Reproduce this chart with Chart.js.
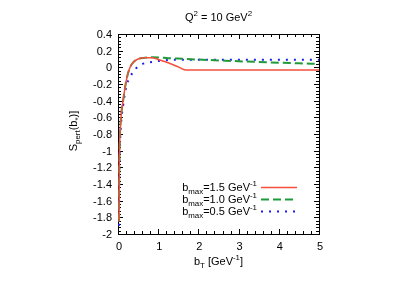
<!DOCTYPE html>
<html>
<head>
<meta charset="utf-8">
<script src="https://cdn.jsdelivr.net/npm/chart.js@4/dist/chart.umd.min.js"></script>
<style>
  html, body { margin: 0; padding: 0; background: #fff; }
  #wrap { width: 403px; height: 282px; }
</style>
</head>
<body>
<div id="wrap"><canvas id="myChart" width="403" height="282"></canvas></div>
<script>
// b_T values in GeV^-1
var bT = [0.025, 0.028, 0.032, 0.04, 0.07, 0.13, 0.21, 0.29, 0.38, 0.5, 0.67, 0.85, 1.0, 1.25, 1.5, 1.68, 2.0, 2.5, 3.0, 3.5, 4.0, 4.5, 5.0];

// S_pert for each b_max
var sBmax15 = [-1.85, -1.5, -1.2, -0.95, -0.63, -0.39, -0.15, -0.01, 0.06, 0.10, 0.115, 0.115, 0.095, 0.055, 0.005, -0.032, -0.032, -0.032, -0.032, -0.032, -0.032, -0.032, -0.032];
var sBmax10 = [-1.85, -1.5, -1.2, -0.95, -0.63, -0.39, -0.15, -0.01, 0.06, 0.10, 0.115, 0.12, 0.118, 0.11, 0.105, 0.10, 0.093, 0.083, 0.073, 0.064, 0.056, 0.048, 0.04];
var sBmax05 = [-1.9, -1.6, -1.3, -1.05, -0.72, -0.45, -0.22, -0.13, -0.05, 0.01, 0.05, 0.065, 0.075, 0.088, 0.09, 0.09, 0.09, 0.09, 0.09, 0.09, 0.09, 0.09, 0.09];

var legendLabels = [
    [{t: 'b'}, {t: 'max', sub: true}, {t: '=1.5 GeV'}, {t: '-1', sup: true}],
    [{t: 'b'}, {t: 'max', sub: true}, {t: '=1.0 GeV'}, {t: '-1', sup: true}],
    [{t: 'b'}, {t: 'max', sub: true}, {t: '=0.5 GeV'}, {t: '-1', sup: true}]
];

var xTicks = [0, 1, 2, 3, 4, 5];
var yTicks = [0.4, 0.2, 0, -0.2, -0.4, -0.6, -0.8, -1, -1.2, -1.4, -1.6, -1.8, -2];
var yMin = -2, yMax = 0.4;

var FONT = '"Liberation Sans", Arial, sans-serif';

function toPoints(xs, ys) {
    var pts = [];
    for (var i = 0; i < xs.length; i++) {
        pts.push({x: xs[i], y: ys[i]});
    }
    return pts;
}

/**
 * Width of a string made of pieces with sub/superscripts
 */
function richWidth(ctx, parts, size) {
    var w = 0;
    for (var i = 0; i < parts.length; i++) {
        var s = (parts[i].sub || parts[i].sup) ? size * 0.72 : size;
        ctx.font = s + 'px ' + FONT;
        w += ctx.measureText(parts[i].t).width;
    }
    return w;
}

function drawRich(ctx, parts, x, y, size) {
    ctx.textBaseline = 'alphabetic';
    ctx.textAlign = 'left';
    for (var i = 0; i < parts.length; i++) {
        var p = parts[i];
        var s = size, dy = 0;
        if (p.sub) { s = size * 0.72; dy = size * 0.3; }
        if (p.sup) { s = size * 0.72; dy = -size * 0.42; }
        ctx.font = s + 'px ' + FONT;
        ctx.fillText(p.t, x, y + dy);
        x += ctx.measureText(p.t).width;
    }
}

// box and inward ticks, under the curves
var framePlugin = {
    id: 'frame',
    beforeDatasetsDraw: function(chart) {
        var ctx = chart.ctx;
        var a = chart.chartArea;
        var xs = chart.scales.x, ys = chart.scales.y;
        ctx.save();
        ctx.strokeStyle = '#000';
        ctx.lineWidth = 1;
        ctx.strokeRect(Math.round(a.left) + 0.5, Math.round(a.top) + 0.5, Math.round(a.right - a.left), Math.round(a.bottom - a.top));

        ctx.beginPath();
        var i, v, px, len;
        for (i = 0; i <= 25; i++) {
            v = i * 0.2;
            px = Math.round(xs.getPixelForValue(v)) + 0.5;
            len = (i % 5 === 0) ? 5 : 3;
            ctx.moveTo(px, a.bottom); ctx.lineTo(px, a.bottom - len);
            ctx.moveTo(px, a.top); ctx.lineTo(px, a.top + len);
        }
        for (i = 0; i <= 60; i++) {
            v = yMin + i * 0.04;
            px = Math.round(ys.getPixelForValue(v)) + 0.5;
            len = (i % 5 === 0) ? 5 : 3;
            ctx.moveTo(a.left, px); ctx.lineTo(a.left + len, px);
            ctx.moveTo(a.right, px); ctx.lineTo(a.right - len, px);
        }
        ctx.stroke();
        ctx.restore();
    },
    // tick labels, titles and legend
    afterDraw: function(chart) {
        var ctx = chart.ctx;
        var a = chart.chartArea;
        var xs = chart.scales.x, ys = chart.scales.y;
        var i;
        ctx.save();
        ctx.fillStyle = '#000';
        ctx.font = '11px ' + FONT;
        ctx.textBaseline = 'middle';
        ctx.textAlign = 'center';
        for (i = 0; i < xTicks.length; i++) {
            ctx.fillText(String(xTicks[i]), xs.getPixelForValue(xTicks[i]) + 1, 247);
        }
        ctx.textAlign = 'right';
        for (i = 0; i < yTicks.length; i++) {
            ctx.fillText(String(yTicks[i]), 112, ys.getPixelForValue(yTicks[i]) + 1);
        }

        // title
        var title = [{t: 'Q'}, {t: '2', sup: true}, {t: ' = 10 GeV'}, {t: '2', sup: true}];
        var cx = (a.left + a.right) / 2;
        drawRich(ctx, title, cx - richWidth(ctx, title, 11) / 2, 21, 11);

        // x axis title
        var xt = [{t: 'b'}, {t: 'T', sub: true}, {t: ' [GeV'}, {t: '-1', sup: true}, {t: ']'}];
        drawRich(ctx, xt, cx - richWidth(ctx, xt, 11) / 2, 265, 11);

        // y axis title
        var yt = [{t: 'S'}, {t: 'pert', sub: true}, {t: '(b'}, {t: '*', sub: true}, {t: ')]'}];
        ctx.save();
        ctx.translate(77, 131);
        ctx.rotate(-Math.PI / 2);
        drawRich(ctx, yt, -richWidth(ctx, yt, 11) / 2, 0, 11);
        ctx.restore();

        // legend
        var ds = chart.data.datasets;
        for (i = 0; i < ds.length; i++) {
            var ly = 187 + i * 12;
            var w = richWidth(ctx, legendLabels[i], 11);
            ctx.fillStyle = '#000';
            drawRich(ctx, legendLabels[i], 257 - w, ly + 4, 11);
            ctx.beginPath();
            ctx.strokeStyle = ds[i].borderColor;
            ctx.lineWidth = ds[i].borderWidth;
            ctx.setLineDash(ds[i].borderDash || []);
            ctx.moveTo(261, ly + 0.5);
            ctx.lineTo(297, ly + 0.5);
            ctx.stroke();
        }
        ctx.restore();
    }
};

var ctx = document.getElementById('myChart').getContext('2d');
var myChart = new Chart(ctx, {
    type: 'line',
    data: {
        datasets: [{
            label: 'bmax=1.5',
            data: toPoints(bT, sBmax15),
            borderColor: '#f4503c',
            borderWidth: 1.5,
            pointRadius: 0,
            cubicInterpolationMode: 'monotone',
            fill: false
        }, {
            label: 'bmax=1.0',
            data: toPoints(bT, sBmax10),
            borderColor: '#1f9a3a',
            borderWidth: 2,
            borderDash: [8, 4],
            pointRadius: 0,
            cubicInterpolationMode: 'monotone',
            fill: false
        }, {
            label: 'bmax=0.5',
            data: toPoints(bT, sBmax05),
            borderColor: '#1c1cf0',
            borderWidth: 2,
            borderDash: [2, 6],
            pointRadius: 0,
            cubicInterpolationMode: 'monotone',
            fill: false
        }]
    },
    options: {
        responsive: false,
        animation: false,
        devicePixelRatio: 1,
        layout: {padding: {left: 0, top: 34, right: 84, bottom: 0}},
        plugins: {legend: {display: false}, tooltip: {enabled: false}},
        scales: {
            x: {
                type: 'linear',
                min: 0, max: 5,
                grid: {display: false},
                border: {display: false},
                ticks: {display: false},
                afterFit: function(scale) { scale.height = 48; }
            },
            y: {
                min: yMin, max: yMax,
                grid: {display: false},
                border: {display: false},
                ticks: {display: false},
                afterFit: function(scale) { scale.width = 118; }
            }
        }
    },
    plugins: [framePlugin]
});
</script>
</body>
</html>
